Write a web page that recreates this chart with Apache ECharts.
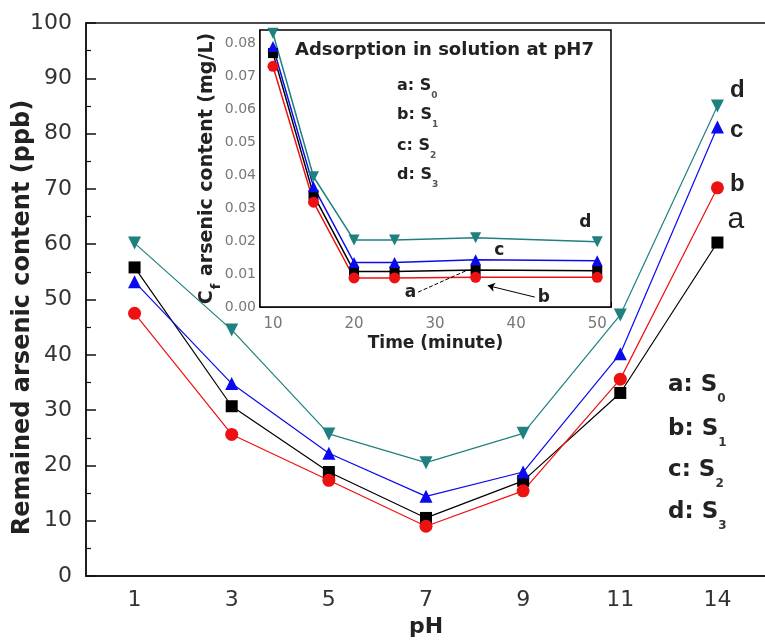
<!DOCTYPE html>
<html><head><meta charset="utf-8">
<script src="https://cdn.jsdelivr.net/npm/echarts@6/dist/echarts.min.js"></script>
<style>html,body{margin:0;padding:0;background:#fff}#c{width:765px;height:644px}</style>
</head><body><div id="c"></div>
<script>
// ---- data ----
const phLabels = ['1', '3', '5', '7', '9', '11', '14'];
const mainA = [55.8, 30.7, 18.8, 10.5, 17.2, 33.1, 60.3];
const mainB = [47.5, 25.6, 17.3, 9.0, 15.4, 35.6, 70.2];
const mainC = [53.2, 34.8, 22.2, 14.4, 18.8, 40.2, 81.2];
const mainD = [60.2, 44.5, 25.7, 20.5, 25.8, 47.2, 85.0];
const timeMin = [10, 15, 20, 25, 35, 50];
const insetA = [0.077, 0.034, 0.0108, 0.0108, 0.0112, 0.011];
const insetB = [0.073, 0.0318, 0.0088, 0.0088, 0.009, 0.009];
const insetC = [0.079, 0.0365, 0.0135, 0.0135, 0.0143, 0.014];
const insetD = [0.083, 0.0395, 0.0203, 0.0203, 0.021, 0.0198];
const curveKeys = ['a', 'b', 'c', 'd'];
const sampleSubs = ['0', '1', '2', '3'];

// ---- styles ----
const colors = { a: '#000000', b: '#ee1111', c: '#0a0aee', d: '#1f8080' };
const symbols = { a: 'rect', b: 'circle', c: 'triangle', d: 'triangle' };
const rotates = { a: 0, b: 0, c: 0, d: 180 };
const mainSizes = { a: 12, b: 13, c: 13, d: 13 };
const insetSizes = { a: 10, b: 11, c: 11, d: 11 };
const mainVals = { a: mainA, b: mainB, c: mainC, d: mainD };
const insetVals = { a: insetA, b: insetB, c: insetC, d: insetD };
const endLabel = {
  a: { position: 'right', offset: [-2, -23], fontSize: 30, fontWeight: 'normal', distance: 6 },
  b: { position: 'right', offset: [0, -3], fontSize: 24, fontWeight: 'bold', distance: 6 },
  c: { position: 'right', offset: [0, 3], fontSize: 24, fontWeight: 'bold', distance: 6 },
  d: { position: 'right', offset: [0, -16], fontSize: 24, fontWeight: 'bold', distance: 6 }
};
const FF = 'DejaVu Sans';

const series = [];
curveKeys.forEach(k => {
  const vals = mainVals[k];
  series.push({
    type: 'line', name: k, xAxisIndex: 0, yAxisIndex: 0,
    symbol: symbols[k], symbolRotate: rotates[k], symbolSize: mainSizes[k],
    itemStyle: { color: colors[k] }, lineStyle: { color: colors[k], width: 1.2 },
    z: 3,
    data: vals.map((v, i) => i === vals.length - 1 ? {
      value: v,
      label: Object.assign({ show: true, formatter: k, color: '#222', fontFamily: 'Liberation Sans' }, endLabel[k])
    } : v)
  });
});

const insetLabels = {
  c: { idx: 4, position: 'right', offset: [8, -9] },
  d: { idx: 5, position: 'top', offset: [-12, 0] }
};
curveKeys.forEach(k => {
  const vals = insetVals[k];
  const s = {
    type: 'line', name: 'inset-' + k, xAxisIndex: 2, yAxisIndex: 1,
    symbol: symbols[k], symbolRotate: rotates[k], symbolSize: insetSizes[k],
    itemStyle: { color: colors[k] }, lineStyle: { color: colors[k], width: 1.5 },
    z: 12,
    data: timeMin.map((t, i) => {
      const lab = insetLabels[k];
      if (lab && lab.idx === i) {
        return { value: [t, vals[i]], label: { show: true, formatter: k, position: lab.position, offset: lab.offset,
          fontFamily: FF, fontWeight: 'bold', fontSize: 17, color: '#222' } };
      }
      return [t, vals[i]];
    })
  };
  if (k === 'a') {
    s.markLine = { silent: true, symbol: ['none', 'none'], animation: false, z: 14,
      lineStyle: { type: 'dashed', color: '#000', width: 1 },
      label: { show: true, position: 'start', formatter: 'a', fontFamily: FF, fontWeight: 'bold', fontSize: 17, color: '#222', distance: 2 },
      data: [[{ coord: [27.9, 0.0045] }, { coord: [34.0, 0.0112] }]] };
  }
  if (k === 'b') {
    s.markLine = { silent: true, symbol: ['none', 'arrow'], symbolSize: 7, animation: false, z: 14,
      lineStyle: { type: 'solid', color: '#000', width: 1 },
      label: { show: true, position: 'start', formatter: 'b', fontFamily: FF, fontWeight: 'bold', fontSize: 17, color: '#222', distance: 3 },
      data: [[{ coord: [42.3, 0.0030] }, { coord: [36.5, 0.0065] }]] };
  }
  series.push(s);
});

function legendText(k, sub, x, y, big) {
  return {
    type: 'text', left: x, top: y, z: 50,
    style: {
      text: '{m|' + k + ': S}{s|' + sub + '}',
      rich: big ? {
        m: { fontFamily: FF, fontWeight: 'bold', fontSize: 23, lineHeight: 28, verticalAlign: 'top', fill: '#222' },
        s: { fontFamily: FF, fontWeight: 'bold', fontSize: 12, lineHeight: 13, verticalAlign: 'top', padding: [19, 0, 0, 0], fill: '#333' }
      } : {
        m: { fontFamily: FF, fontWeight: 'bold', fontSize: 16, lineHeight: 20, verticalAlign: 'top', fill: '#222' },
        s: { fontFamily: FF, fontWeight: 'bold', fontSize: 9, lineHeight: 10, verticalAlign: 'top', padding: [13, 0, 0, 0], fill: '#555' }
      }
    }
  };
}
const graphics = [];
const mainLegY = [374, 418, 459, 501];
const insetLegY = [78, 107, 138, 167];
curveKeys.forEach((k, i) => {
  graphics.push(legendText(k, sampleSubs[i], 668, mainLegY[i], true));
  graphics.push(legendText(k, sampleSubs[i], 397, insetLegY[i], false));
});
graphics.push({ type: 'text', left: 295, top: 41, z: 50,
  style: { text: 'Adsorption in solution at pH7', fontFamily: FF, fontWeight: 'bold', fontSize: 18, fill: '#222' } });

const option = {
  animation: false,
  backgroundColor: '#fff',
  grid: [
    { left: 86, top: 23, right: -1, bottom: 68, outerBoundsMode: 'none', containLabel: false,
      show: true, borderColor: '#111', borderWidth: 1.5, backgroundColor: 'transparent', z: 0 },
    { left: 260, top: 30, width: 351, height: 277, outerBoundsMode: 'none', containLabel: false,
      show: true, borderColor: '#000', borderWidth: 1.5, backgroundColor: '#fff', z: 10 }
  ],
  xAxis: [
    { type: 'category', gridIndex: 0, position: 'bottom', data: phLabels, boundaryGap: true,
      name: 'pH', nameLocation: 'middle', nameGap: 40, nameMoveOverlap: false,
      nameTextStyle: { fontFamily: FF, fontWeight: 'bold', fontSize: 22, color: '#222' },
      axisLine: { lineStyle: { color: '#111', width: 1.5 } },
      axisTick: { alignWithLabel: true, inside: true, length: 10, lineStyle: { color: '#111', width: 1.5 } },
      axisLabel: { margin: 13, fontFamily: FF, fontSize: 22, color: '#333' },
      splitLine: { show: false } },
    { type: 'category', gridIndex: 0, position: 'bottom', data: phLabels, boundaryGap: true,
      axisLine: { show: false },
      axisTick: { alignWithLabel: false, inside: true, length: 5, lineStyle: { color: '#111', width: 1.2 } },
      axisLabel: { show: false }, splitLine: { show: false } },
    { type: 'value', gridIndex: 1, position: 'bottom', min: 8.4, max: 51.7, splitNumber: 5,
      name: 'Time (minute)', nameLocation: 'middle', nameGap: 28, nameMoveOverlap: false,
      nameTextStyle: { fontFamily: FF, fontWeight: 'bold', fontSize: 17, color: '#222' },
      axisLine: { lineStyle: { color: '#000', width: 1.5 } },
      axisTick: { inside: true, length: 5, lineStyle: { color: '#000' } },
      minorTick: { show: true, splitNumber: 2, length: 3, lineStyle: { color: '#000' } },
      axisLabel: { margin: 10, fontFamily: FF, fontSize: 15, color: '#777',
        formatter: v => (Math.abs(v / 10 - Math.round(v / 10)) < 1e-6 ? String(Math.round(v)) : '') },
      splitLine: { show: false } }
  ],
  yAxis: [
    { type: 'value', gridIndex: 0, min: 0, max: 100, interval: 10,
      name: 'Remained arsenic content (ppb)', nameLocation: 'middle', nameGap: 51, nameMoveOverlap: false,
      nameTextStyle: { fontFamily: FF, fontWeight: 'bold', fontSize: 24, color: '#222', padding: [0, 36, 0, 0] },
      axisLine: { show: true, lineStyle: { color: '#111', width: 1.5 } },
      axisTick: { show: true, inside: true, length: 10, lineStyle: { color: '#111', width: 1.5 } },
      minorTick: { show: true, splitNumber: 2, length: 5, lineStyle: { color: '#111', width: 1.2 } },
      axisLabel: { margin: 14, fontFamily: FF, fontSize: 22, color: '#333' },
      splitLine: { show: false } },
    { type: 'value', gridIndex: 1, min: 0, max: 0.084, interval: 0.01,
      name: '{c|C}{f|f}{c| arsenic content (mg/L)}', nameLocation: 'middle', nameGap: 40, nameMoveOverlap: false,
      nameTextStyle: { fontFamily: FF, fontWeight: 'bold', fontSize: 19, color: '#222',
        rich: {
          c: { fontFamily: FF, fontWeight: 'bold', fontSize: 19, color: '#222', lineHeight: 22, verticalAlign: 'top' },
          f: { fontFamily: FF, fontWeight: 'bold', fontSize: 13, color: '#222', lineHeight: 14, verticalAlign: 'top', padding: [12, 1, 0, 1] }
        } },
      axisLine: { show: true, lineStyle: { color: '#000', width: 1.5 } },
      axisTick: { show: true, inside: true, length: 5, lineStyle: { color: '#000' } },
      minorTick: { show: true, splitNumber: 2, length: 3, lineStyle: { color: '#000' } },
      axisLabel: { margin: 4, fontFamily: FF, fontSize: 14, color: '#777',
        formatter: v => (Math.abs(v * 100 - Math.round(v * 100)) < 1e-6 ? v.toFixed(2) : '') },
      splitLine: { show: false } }
  ],
  graphic: graphics,
  series: series
};
const chart = echarts.init(document.getElementById('c'), null, { renderer: 'canvas' });
chart.setOption(option);
</script>
</body></html>
